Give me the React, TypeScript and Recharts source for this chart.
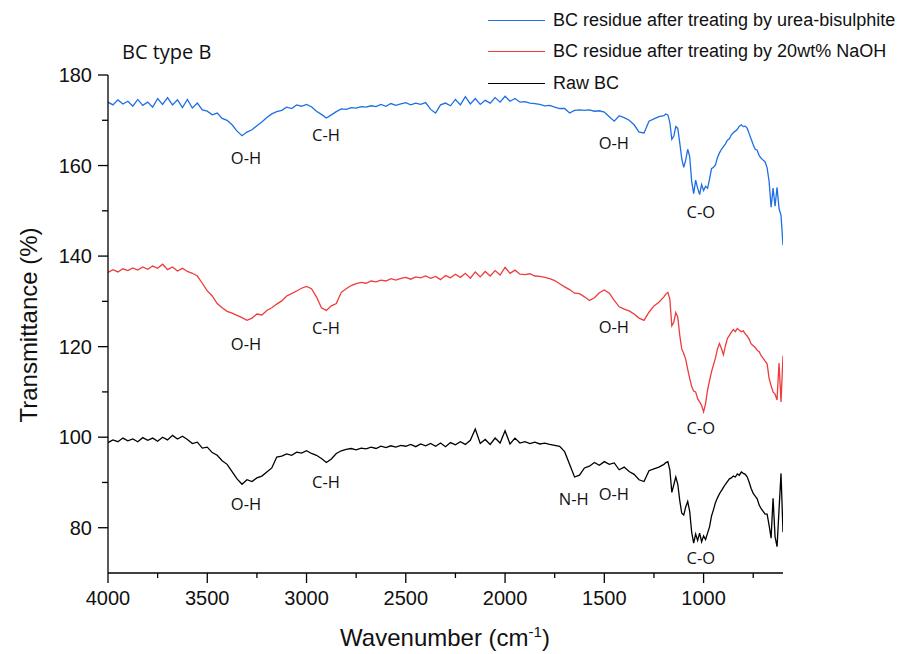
import React from "react";
import { LineChart, Line, XAxis, YAxis, Legend, ReferenceDot, ReferenceLine } from "recharts";

// wavenumber grid (cm-1): 25 steps above 1200, 10 steps in the fingerprint region
const wavenumbers = [
  4000, 3975, 3950, 3925, 3900, 3875, 3850, 3825, 3800, 3775,
  3750, 3725, 3700, 3675, 3650, 3625, 3600, 3575, 3550, 3525,
  3500, 3475, 3450, 3425, 3400, 3375, 3350, 3325, 3300, 3275,
  3250, 3225, 3200, 3175, 3150, 3125, 3100, 3075, 3050, 3025,
  3000, 2975, 2950, 2925, 2900, 2875, 2850, 2825, 2800, 2775,
  2750, 2725, 2700, 2675, 2650, 2625, 2600, 2575, 2550, 2525,
  2500, 2475, 2450, 2425, 2400, 2375, 2350, 2325, 2300, 2275,
  2250, 2225, 2200, 2175, 2150, 2125, 2100, 2075, 2050, 2025,
  2000, 1975, 1950, 1925, 1900, 1875, 1850, 1825, 1800, 1775,
  1750, 1725, 1700, 1675, 1650, 1625, 1600, 1575, 1550, 1525,
  1500, 1475, 1450, 1425, 1400, 1375, 1350, 1325, 1300, 1275,
  1250, 1225,
  1200, 1190, 1180, 1170, 1160, 1150, 1140, 1130, 1120, 1110,
  1100, 1090, 1080, 1070, 1060, 1050, 1040, 1030, 1020, 1010,
  1000, 990, 980, 970, 960, 950, 940, 930, 920, 910,
  900, 890, 880, 870, 860, 850, 840, 830, 820, 810,
  800, 790, 780, 770, 760, 750, 740, 730, 720, 710,
  700, 690, 680, 670, 660, 650, 640, 630, 620, 610,
  600,
];

// BC residue after urea-bisulphite (blue)
const ureaBisulphite = [
  174.0, 173.4, 174.5, 173.6, 174.2, 173.1, 174.6, 173.3, 174.0, 172.9,
  174.8, 173.5, 175.0, 173.4, 174.5, 172.8, 174.6, 172.7, 173.8, 172.3,
  172.0, 171.2, 171.6, 170.4, 170.0, 169.0, 167.6, 166.6, 167.4, 167.9,
  168.8, 169.6, 170.6, 171.4, 171.9, 172.2, 172.9, 172.6, 173.4, 173.1,
  173.5, 173.0, 172.0, 171.3, 170.5, 171.2, 171.9, 172.5, 172.4, 172.8,
  172.7, 173.0, 172.9, 173.2, 173.0, 173.5, 173.1, 173.7, 173.3, 173.6,
  173.9, 173.4, 173.8, 173.5, 173.9, 172.4, 171.6, 173.4, 173.8, 173.2,
  174.6, 173.4, 175.2, 173.6, 174.8, 173.5, 174.4, 173.8, 175.0, 174.0,
  175.3, 174.2, 174.8, 174.0, 174.1, 173.8, 173.7, 173.5, 173.2, 173.3,
  172.9, 172.6, 172.6, 171.6, 172.2, 172.3, 172.2, 172.3, 172.0, 172.1,
  171.8, 170.8, 169.8, 171.0, 170.6, 170.0, 169.0, 167.4, 167.2, 169.8,
  170.3, 170.8,
  171.0, 171.4, 171.2, 169.5, 165.8, 166.5, 168.6, 168.2, 165.0, 161.5,
  159.6, 161.2, 163.6, 162.0, 156.5, 153.8, 156.8, 155.0, 153.6, 155.8,
  154.5, 155.4, 155.0, 157.0, 159.3, 159.6, 160.2, 161.8, 162.8, 163.6,
  164.2, 164.8, 165.6, 165.9, 166.8, 167.3, 167.6, 168.0, 168.7, 169.0,
  168.6, 168.7, 168.2, 167.0, 165.8, 164.6, 163.6, 163.4, 162.2, 161.6,
  161.2, 160.8, 159.5, 156.5, 150.8, 155.0, 151.0, 155.2, 150.5, 149.0,
  142.4,
];

// BC residue after 20wt% NaOH (red)
const naoh20 = [
  136.4, 137.0, 136.5, 137.2, 136.8, 137.4, 136.9, 137.6, 137.1, 137.8,
  137.3, 138.2, 137.0, 137.6, 136.7, 137.3, 136.6, 136.2, 135.6, 134.0,
  132.3, 131.2, 129.5, 128.6, 127.8, 127.4, 126.9, 126.4, 125.8, 126.3,
  127.2, 127.0, 128.0, 128.6, 129.4, 130.1, 131.2, 131.7, 132.3, 132.9,
  133.3, 132.8, 131.0, 128.6, 128.0, 129.0, 129.5, 132.0, 132.8, 133.5,
  133.9, 134.2, 134.0, 134.5, 134.3, 134.7, 134.5, 135.0, 134.7, 135.1,
  135.3, 134.9, 135.4, 135.2, 135.6, 135.1, 135.5, 134.8, 135.7, 135.2,
  136.0, 135.3, 136.2, 135.1, 136.5, 135.4, 136.6, 135.6, 136.8, 135.8,
  137.5, 136.2, 136.9, 136.0, 135.9, 136.1, 135.6, 135.5, 135.3, 135.0,
  134.6, 133.9, 133.2, 132.6, 131.8, 131.7, 131.0, 130.2, 130.8, 131.9,
  132.5, 131.8, 130.2, 128.8, 128.3, 127.9, 127.2, 126.3, 125.8, 127.6,
  129.0, 129.8,
  131.0, 131.6, 132.0, 130.5, 124.6, 125.4, 127.5, 126.5, 122.5, 119.5,
  118.5, 117.2, 115.0, 113.0, 111.2, 110.2, 110.0, 108.5, 107.8, 107.0,
  105.6, 107.4, 110.4, 112.5, 114.5, 116.0, 117.5, 119.5, 120.7, 119.6,
  118.2, 120.2, 121.8, 122.5, 123.2, 123.8, 123.3, 124.0, 123.6, 123.3,
  123.5, 122.8, 122.3, 121.6, 120.6, 120.2, 119.8, 119.2, 118.9, 118.0,
  117.4, 116.8, 116.2, 113.0, 111.4, 110.0, 109.5, 108.2, 116.4, 107.8,
  118.0,
];

// Raw BC (black)
const rawBC = [
  98.8, 99.4, 99.0, 99.8, 99.2, 99.6, 99.0, 99.9, 99.3, 99.8,
  99.1, 100.0, 99.4, 100.4, 99.6, 100.2, 99.5, 98.6, 98.9, 97.6,
  97.8, 96.6, 96.0, 94.8, 94.0, 92.4, 90.8, 89.6, 90.6, 90.2,
  91.0, 91.4, 92.3, 93.2, 95.6, 95.8, 96.3, 96.0, 96.7, 96.5,
  97.0, 96.4, 96.0, 95.3, 94.4, 95.2, 96.4, 97.0, 97.3, 97.5,
  97.2, 97.6, 97.4, 97.8, 97.5, 98.0, 97.7, 98.1, 97.8, 98.2,
  98.0, 98.4, 97.9, 98.5, 98.1, 98.6, 98.0, 98.7, 97.9, 98.8,
  98.3, 99.0, 98.4, 99.3, 101.8, 98.6, 99.5, 98.4, 99.8, 98.7,
  101.4, 98.5, 99.8, 98.7, 99.0, 98.6, 98.9, 98.5, 98.7, 98.4,
  98.2, 98.0, 96.8, 94.0, 91.2, 91.6, 93.2, 93.6, 94.4, 93.8,
  94.6, 94.0, 94.3, 92.8, 93.4, 92.4, 91.8, 90.6, 90.2, 92.6,
  93.0, 93.4,
  94.0, 94.4, 94.6, 92.8, 87.8, 89.5, 91.2, 89.6, 86.0, 83.2,
  82.8, 84.6, 85.8, 83.6, 79.0, 76.6, 78.6, 77.2, 78.8, 76.9,
  78.2, 77.4, 78.8, 80.2, 82.6, 84.0, 85.6, 86.6, 87.5, 88.2,
  88.9, 89.6, 90.2, 90.8, 91.0, 91.4, 91.2, 91.9, 91.6, 92.3,
  92.0, 91.8, 91.2, 90.0, 88.6, 87.6, 87.0, 86.4, 85.0, 84.2,
  83.6, 83.0, 83.0, 80.5, 77.7, 86.5, 78.0, 75.8, 84.0, 92.0,
  79.0,
];

const xMajorTicks = [4000, 3500, 3000, 2500, 2000, 1500, 1000];
const xMinorTicks = [3750, 3250, 2750, 2250, 1750, 1250, 750];
const yMajorTicks = [80, 100, 120, 140, 160, 180];
const yMinorTicks = [90, 110, 130, 150, 170];

// band assignments written on the plot
const peakLabels = [
  { text: "O-H", w: 3305, v: 161.7 },
  { text: "C-H", w: 2902, v: 166.7 },
  { text: "O-H", w: 1452, v: 165.0 },
  { text: "C-O", w: 1014, v: 149.6 },
  { text: "O-H", w: 3305, v: 120.6 },
  { text: "C-H", w: 2902, v: 124.1 },
  { text: "O-H", w: 1452, v: 124.4 },
  { text: "C-O", w: 1014, v: 102.1 },
  { text: "O-H", w: 3305, v: 85.3 },
  { text: "C-H", w: 2902, v: 90.1 },
  { text: "N-H", w: 1654, v: 86.4 },
  { text: "O-H", w: 1452, v: 87.4 },
  { text: "C-O", w: 1014, v: 73.2 },
];

const legendOrder = ["urea", "naoh", "raw"];

const X_MIN = 600;
const X_MAX = 4000;
const Y_MIN = 70;
const Y_MAX = 180;
// minor tick lengths in data units (about 5 px down, 6 px left)
const X_TICK_MINOR = 1.1;
const Y_TICK_MINOR = 30;

const chartData = wavenumbers.map((w, i) => ({
  w,
  urea: ureaBisulphite[i],
  naoh: naoh20[i],
  raw: rawBC[i],
}));

const TICK_FONT = "'Liberation Sans', Arial, sans-serif";
const NOTE_FONT = "'Open Sans', sans-serif";
const axisStyle = { stroke: "#000", strokeWidth: 1.3 };

const renderLegend = (props: any) => {
  const items = [...(props.payload || [])].sort(
    (a: any, b: any) => legendOrder.indexOf(a.dataKey) - legendOrder.indexOf(b.dataKey)
  );
  return (
    <div style={{ fontFamily: TICK_FONT, fontSize: 18, color: "#111" }}>
      {items.map((entry: any, index: number) => (
        <div key={index} style={{ display: "flex", alignItems: "center", height: 31.3, whiteSpace: "nowrap" }}>
          <span style={{ display: "inline-block", width: 57, borderTop: `1.3px solid ${entry.color}`, marginRight: 8 }} />
          <span>{entry.value}</span>
        </div>
      ))}
    </div>
  );
};

export default function App() {
  return (
    <div style={{ position: "absolute", left: 0, top: 0, width: 916, height: 654, background: "#fff" }}>
      <div
        style={{
          position: "absolute",
          left: 122,
          top: 39,
          fontFamily: NOTE_FONT,
          fontSize: 20,
          lineHeight: "26px",
          color: "#111",
          zIndex: 2,
        }}
      >
        BC type B
      </div>
      <LineChart width={916} height={654} data={chartData} margin={{ top: 75, right: 133, bottom: 51, left: 48 }}>
        <XAxis
          dataKey="w"
          type="number"
          domain={[X_MIN, X_MAX]}
          reversed
          allowDataOverflow
          ticks={xMajorTicks}
          interval={0}
          height={30}
          tickSize={10}
          tickMargin={8}
          tickLine={axisStyle}
          tick={{ fontSize: 20, fontFamily: TICK_FONT, fill: "#111" }}
          axisLine={axisStyle}
          label={{
            content: () => (
              <text x={445} y={646} textAnchor="middle" fontSize={24} fontFamily={TICK_FONT} fill="#111">
                Wavenumber (cm
                <tspan dy={-9} fontSize={15}>-1</tspan>
                <tspan dy={9}>)</tspan>
              </text>
            ),
          }}
        />
        <YAxis
          type="number"
          domain={[Y_MIN, Y_MAX]}
          allowDataOverflow
          ticks={yMajorTicks}
          interval={0}
          width={60}
          tickSize={10}
          tickMargin={6}
          tickLine={axisStyle}
          tick={{ fontSize: 20, fontFamily: TICK_FONT, fill: "#111" }}
          axisLine={axisStyle}
          label={{
            content: () => (
              <text
                x={28}
                y={325}
                transform="rotate(-90, 28, 325)"
                textAnchor="middle"
                dominantBaseline="central"
                fontSize={24}
                fontFamily={TICK_FONT}
                fill="#111"
              >
                Transmittance (%)
              </text>
            ),
          }}
        />
        {/* shorter minor ticks, drawn through the chart scales */}
        {xMinorTicks.map((t) => (
          <ReferenceLine
            key={`xt${t}`}
            segment={[
              { x: t, y: Y_MIN },
              { x: t, y: Y_MIN - X_TICK_MINOR },
            ]}
            ifOverflow="visible"
            stroke="#000"
            strokeWidth={1.3}
          />
        ))}
        {yMinorTicks.map((t) => (
          <ReferenceLine
            key={`yt${t}`}
            segment={[
              { x: X_MAX, y: t },
              { x: X_MAX + Y_TICK_MINOR, y: t },
            ]}
            ifOverflow="visible"
            stroke="#000"
            strokeWidth={1.3}
          />
        ))}
        <Legend
          layout="vertical"
          align="center"
          verticalAlign="middle"
          content={renderLegend}
          wrapperStyle={{ left: 488, top: 5, width: 420 }}
        />
        <Line
          type="linear"
          dataKey="urea"
          name="BC residue after treating by urea-bisulphite"
          stroke="#1e6fe3"
          strokeWidth={1.3}
          dot={false}
          isAnimationActive={false}
        />
        <Line
          type="linear"
          dataKey="naoh"
          name="BC residue after treating by 20wt% NaOH"
          stroke="#ee3b3b"
          strokeWidth={1.3}
          dot={false}
          isAnimationActive={false}
        />
        <Line
          type="linear"
          dataKey="raw"
          name="Raw BC"
          stroke="#000"
          strokeWidth={1.3}
          dot={false}
          isAnimationActive={false}
        />
        {peakLabels.map((p, i) => (
          <ReferenceDot
            key={i}
            x={p.w}
            y={p.v}
            r={0}
            fill="none"
            stroke="none"
            label={{ value: p.text, position: "center", fill: "#111", fontSize: 16.5, fontFamily: NOTE_FONT }}
          />
        ))}
      </LineChart>
    </div>
  );
}
